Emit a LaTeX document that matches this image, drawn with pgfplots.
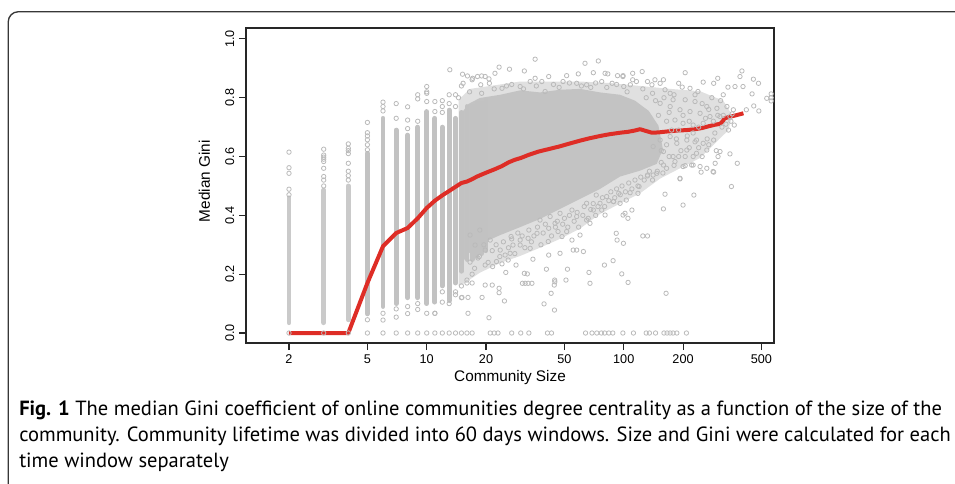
\documentclass[border=0pt]{standalone}
\usepackage{fontspec}
\setmainfont{Liberation Sans}
\newfontfamily\capfont{PT Sans}
\usepackage{pgfplots}
\pgfplotsset{compat=1.18}
\definecolor{ring}{RGB}{186,186,186}
\definecolor{core}{RGB}{195,195,195}
\definecolor{fringe}{RGB}{224,224,224}
\definecolor{colfill}{RGB}{194,194,194}
\definecolor{colfilllight}{RGB}{202,202,202}
\definecolor{medred}{RGB}{222,45,38}
\definecolor{framegray}{RGB}{55,55,55}

\pgfplotsset{
  pts/.style={only marks, mark=o, mark size=1.65pt, ring, mark options={line width=0.6pt}},
  col/.style={colfill, line width=3.6pt, line cap=round},
  collight/.style={colfilllight, line width=3.6pt, line cap=round},
}

\begin{document}
\begin{tikzpicture}
\useasboundingbox (0,0) rectangle (716.25pt,-362.25pt);
% panel frame
\draw[framegray, line width=1pt, rounded corners=7.5pt] (6.2pt,-380pt) -- (6.2pt,-8.8pt) -- (730pt,-8.8pt);

\begin{axis}[
  at={(184.5pt,-257.25pt)}, anchor=south west,
  scale only axis, width=396pt, height=236.25pt,
  xmode=log, xmin=1.21, xmax=579, ymin=-0.034, ymax=1.037,
  axis line style={black!85, line width=0.8pt},
  tick align=outside, major tick length=5.25pt,
  tick style={black!85, line width=0.8pt},
  xtick pos=bottom, ytick pos=left,
  xtick={2,5,10,20,50,100,200,500},
  xticklabels={2,5,10,20,50,100,200,500},
  minor xtick={},
  ytick={0,0.2,0.4,0.6,0.8,1},
  yticklabels={0.0,0.2,0.4,0.6,0.8,1.0},
  /pgf/number format/assume math mode=true,
  ticklabel style={font=\fontsize{9.5}{11}\selectfont},
  yticklabel style={rotate=90, anchor=south},
  xlabel={Community Size}, ylabel={Median Gini},
  label style={font=\fontsize{11.5}{13}\selectfont},
  xlabel style={at={(axis description cs:0.5,-0.111)}, anchor=center},
  ylabel style={at={(axis description cs:-0.079,0.514)}, anchor=center},
]

% semi-dense outer band of the point cloud
\addplot[fill=fringe, draw=none] coordinates {
(14.5,0.793)(16.6,0.830)(21.0,0.840)(29.8,0.855)(42.3,0.855)(60.0,0.855)(85.2,0.850)
(121,0.840)(172,0.830)(244,0.822)(320,0.790)(355,0.741)(340,0.690)(291,0.645)(244,0.595)
(193,0.56)(153,0.525)(121,0.475)(95.8,0.44)(75.8,0.405)(60,0.355)(47.5,0.32)
(37.6,0.29)(29.8,0.262)(23.6,0.238)(18.6,0.205)(15.6,0.17)(14.5,0.16)} -- cycle;

% saturated core of the point cloud
\addplot[fill=core, draw=none] coordinates {
(14.6,0.70)(15.2,0.752)(16.3,0.779)(18.6,0.799)(23.6,0.810)(29.8,0.825)(37.6,0.818)
(47.5,0.827)(60.0,0.830)(75.8,0.818)(95.8,0.81)(114,0.79)(134,0.755)(150,0.705)
(158,0.625)(147,0.575)(121,0.552)(95.8,0.532)(75.8,0.49)(60,0.456)(47.5,0.422)
(37.6,0.388)(29.8,0.36)(23.6,0.333)(18.6,0.302)(16.3,0.27)(15.2,0.24)(14.6,0.22)} -- cycle;

% stacked points of the small community sizes
\addplot[collight] coordinates {(2,0.035)(2,0.46)};
\addplot[collight] coordinates {(3,0.035)(3,0.486)};
\addplot[collight] coordinates {(4,0.045)(4,0.50)};
\addplot[col] coordinates {(5,0.065)(5,0.611)};
\addplot[col] coordinates {(6,0.09)(6,0.73)};
\addplot[col] coordinates {(7,0.10)(7,0.69)};
\addplot[col] coordinates {(8,0.12)(8,0.673)};
\addplot[col] coordinates {(9,0.12)(9,0.70)};
\addplot[col] coordinates {(10,0.10)(10,0.753)};
\addplot[col] coordinates {(11,0.105)(11,0.73)};
\addplot[col] coordinates {(12,0.16)(12,0.70)};
\addplot[col] coordinates {(13,0.11)(13,0.758)};
\addplot[col] coordinates {(14,0.17)(14,0.73)};
\addplot[col] coordinates {(15,0.21)(15,0.75)};
\addplot[col] coordinates {(16,0.25)(16,0.77)};
\addplot[col] coordinates {(17,0.25)(17,0.77)};
\addplot[col] coordinates {(18,0.26)(18,0.78)};
\addplot[col] coordinates {(19,0.27)(19,0.78)};
\addplot[col] coordinates {(20,0.28)(20,0.79)};

% isolated points of the columns
\addplot[pts] coordinates {
(2,0.615)(2,0.562)(2,0.543)(2,0.489)(2,0.47)
(3,0.625)(3,0.605)(3,0.598)(3,0.591)(3,0.583)(3,0.56)(3,0.532)(3,0.52)(3,0.50)
(4,0.643)(4,0.628)(4,0.62)(4,0.61)(4,0.577)(4,0.55)(4,0.535)(4,0.52)
(5,0.716)(5,0.681)(5,0.67)(5,0.657)(5,0.64)(5,0.623)(5,0.045)
(6,0.785)(6,0.77)(6,0.755)(6,0.067)(6,0.044)
(7,0.78)(7,0.73)(7,0.082)(7,0.054)
(8,0.769)(8,0.724)(8,0.695)(8,0.09)(8,0.066)
(9,0.81)(9,0.796)(9,0.72)(9,0.10)(9,0.08)
(10,0.838)(10,0.82)(10,0.815)(10,0.787)(10,0.067)
(11,0.787)(11,0.753)(11,0.067)
(12,0.79)(12,0.77)(12,0.75)(12,0.14)(12,0.105)
(13,0.81)(13,0.78)(13,0.10)
(14,0.81)(14,0.77)(14,0.14)(14,0.13)
(15,0.84)(15,0.16)(15,0.12)
(16,0.18)(16,0.17)
(17,0.20)(17,0.17)
};

% communities with a zero coefficient
\addplot[pts] coordinates {
(2,0)(3,0)(4,0)(5,0)(6,0)(7,0)(8,0)(9,0)(10,0)(11,0)(12,0)(13,0)(14,0)(15,0)(16,0)(17,0)
(21,0)(22,0)(23,0)(27,0)(30,0)(33,0)(41,0)(43,0)(64,0)(69,0)(73,0)(77,0)(80,0)(84,0)
(88,0)(99,0)(112,0)(130,0)(135,0)(145,0)(160,0)(166,0)(172,0)(178,0)(186,0)(208,0)
};

% upper edge of the cloud
\addplot[pts] coordinates {
(13.1,0.895)(15.2,0.880)(16.1,0.874)(17.1,0.866)(18.1,0.872)(19.0,0.874)(19.8,0.872)
(20.7,0.864)(22.2,0.883)(23.3,0.904)(26.3,0.897)(31.3,0.891)(35.5,0.931)(41.6,0.872)
(51.3,0.875)(58.8,0.881)(63.6,0.917)(70.1,0.885)(74.3,0.925)(80.4,0.883)(83.0,0.881)
(93.0,0.875)(99.2,0.875)(111,0.883)
(15.3,0.849)(17.0,0.861)(18.8,0.844)(20.8,0.849)(24.1,0.832)(25.4,0.840)(29.8,0.838)
(33.5,0.855)(35.5,0.866)(38.4,0.855)(39.9,0.821)(49.2,0.855)(57.7,0.849)(64.8,0.844)
(77.3,0.855)(87.3,0.849)(100,0.838)(108,0.844)(116,0.855)
(14.5,0.80)(16.5,0.82)(19,0.815)(22,0.83)(27,0.845)(31,0.83)(36,0.84)(44,0.845)
(47,0.835)(53,0.85)(61,0.84)(68,0.835)(72,0.85)(82,0.835)(92,0.845)(104,0.82)
(125,0.83)(140,0.815)
};

% large communities
\addplot[pts] coordinates {
(124,0.889)(205,0.885)(398,0.891)(389,0.872)(455,0.863)(483,0.849)(338,0.836)(367,0.838)
(403,0.838)(448,0.813)(532,0.798)(560,0.813)(560,0.800)(560,0.789)(485,0.755)(457,0.772)
(419,0.759)(364,0.707)(286,0.849)(300,0.866)(253,0.853)(238,0.821)(217,0.832)(198,0.836)
(190,0.849)(172,0.815)(159,0.861)(162,0.827)(144,0.861)(153,0.849)(132,0.855)(139,0.844)
(111,0.861)(99,0.872)
(178,0.793)(205,0.793)(230,0.787)(264,0.770)(297,0.764)(334,0.770)(308,0.736)(274,0.736)
(244,0.747)(217,0.753)(193,0.759)(172,0.770)(153,0.781)(253,0.713)(225,0.707)(200,0.713)
(182,0.724)(346,0.736)(360,0.759)(234,0.656)(209,0.656)(186,0.645)(253,0.645)(286,0.656)
(172,0.668)(153,0.656)(141,0.634)(159,0.617)(209,0.622)(234,0.611)(264,0.622)(178,0.600)
(377,0.577)(346,0.609)(308,0.617)(291,0.577)(284,0.549)(244,0.566)(221,0.571)(200,0.566)
(182,0.583)(159,0.571)(141,0.537)(158,0.544)(193,0.526)(132,0.537)
(125,0.330)(132,0.330)(164,0.135)(162,0.472)(159,0.422)(193,0.524)(200,0.435)(227,0.469)
(247,0.547)(264,0.560)(286,0.547)(301,0.600)(352,0.498)(225,0.571)(205,0.569)(147,0.543)
(132,0.534)(119.6,0.498)(107.7,0.477)(94.3,0.475)(88.7,0.447)(101.5,0.407)(99.6,0.305)
(320,0.74)(330,0.71)(340,0.69)(350,0.72)(355,0.745)(270,0.76)(250,0.78)(230,0.81)
(280,0.8)(310,0.79)(320,0.81)(180,0.81)(160,0.8)(145,0.79)(130,0.8)(150,0.74)
(165,0.72)(175,0.69)(170,0.75)(190,0.69)(200,0.74)(215,0.72)(225,0.68)(240,0.70)
(260,0.73)(285,0.72)(300,0.74)(210,0.67)(185,0.66)(165,0.64)(155,0.62)(195,0.62)
(230,0.65)(265,0.66)(290,0.68)(315,0.70)(295,0.62)(270,0.64)(250,0.6)(240,0.63)
(225,0.6)(215,0.63)(205,0.6)(190,0.6)(180,0.57)(170,0.6)(165,0.56)(155,0.58)
};

% lower edge of the cloud
\addplot[pts] coordinates {
(11.0,0.067)(16.2,0.067)(20.7,0.052)(15.1,0.121)(16.2,0.121)(19.1,0.121)(24.8,0.109)
(23.3,0.152)(23.3,0.137)(19.8,0.163)(21.5,0.163)(39.4,0.099)(44.5,0.078)(42.8,0.135)
(44.4,0.163)(44.7,0.174)(40.5,0.217)(34.6,0.251)(31.3,0.203)(32.4,0.201)(30.6,0.169)
(31.6,0.169)(32.7,0.169)(34.2,0.169)(25.2,0.206)(24.1,0.235)(28.4,0.231)(55.4,0.282)
(47.5,0.271)(41.4,0.311)(41.6,0.265)(51.8,0.217)(50.9,0.180)(66.6,0.206)(67.4,0.169)
(79.8,0.231)(88.3,0.246)(97.7,0.201)(105.2,0.172)(92.5,0.316)(91.6,0.339)(44.6,0.180)
(60,0.333)(54.6,0.316)(64.8,0.384)(67.4,0.373)(51.3,0.345)(46.4,0.345)(48.6,0.328)
(41.6,0.356)(44.8,0.373)(36.3,0.339)(32.7,0.322)(33.5,0.288)(29.8,0.316)(29.8,0.299)
(26.8,0.328)(27.4,0.299)(26.5,0.271)(23.6,0.282)(25.0,0.265)(25.9,0.248)(22.6,0.243)
(21.6,0.226)(62.4,0.277)(57.7,0.282)(70.1,0.418)(77.3,0.418)(80.4,0.401)(88.7,0.447)
(95.8,0.441)(103,0.452)(110,0.418)(99.2,0.401)(105,0.390)(118,0.475)(64.8,0.441)
(75.8,0.441)(81.9,0.464)(72.5,0.469)(54.6,0.418)(57.7,0.396)(47.5,0.407)(42.3,0.396)
(37.6,0.384)
(16.6,0.333)(17.6,0.299)(18.6,0.350)(19.8,0.282)(21.0,0.316)(18.2,0.255)(16.6,0.241)(19.8,0.231)
(17.5,0.22)(18.5,0.26)(19.5,0.30)(20.5,0.24)(21.5,0.28)(22.5,0.30)(23.5,0.26)(24.5,0.31)
(26,0.29)(27,0.32)(28,0.27)(29,0.34)(30.5,0.33)(31.5,0.29)(33,0.35)(34,0.31)(35,0.33)
(36.5,0.36)(38,0.30)(39,0.34)(40,0.37)(43,0.33)(45,0.36)(46,0.38)(49,0.37)(50,0.39)
(52,0.36)(53,0.40)(56,0.38)(58,0.41)(59,0.36)(62,0.40)(63,0.43)(66,0.39)(68,0.42)
(70,0.44)(72,0.40)(74,0.43)(78,0.46)(80,0.43)(84,0.45)(86,0.48)(90,0.46)(92,0.49)
(96,0.47)(98,0.50)(102,0.48)(106,0.51)(110,0.49)(114,0.52)(118,0.50)(122,0.53)
(127,0.52)(135,0.55)(140,0.52)(148,0.55)
};

% median Gini by community size
\addplot[medred, line width=3pt, line join=round] coordinates {
(2,0)(3,0)(4,0)(5,0.17)(6,0.295)(7,0.34)(8,0.357)(9,0.39)(10,0.425)(11,0.45)(12,0.468)
(13,0.483)(14,0.497)(15,0.51)(16,0.515)(17,0.523)(18,0.532)(20,0.545)(22,0.556)(24,0.567)
(26,0.58)(28,0.589)(30,0.595)(33,0.606)(37,0.617)(42,0.626)(47,0.634)(53,0.644)(60,0.654)
(67,0.662)(76,0.67)(85,0.676)(96,0.681)(105,0.684)(113,0.688)(121,0.693)(128,0.688)
(139,0.681)(150,0.682)(165,0.685)(185,0.688)(209,0.690)(230,0.693)(250,0.697)(270,0.703)
(290,0.708)(308,0.711)(318,0.72)(325,0.73)(345,0.735)(370,0.740)(405,0.747)
};
\end{axis}

\node[anchor=base west, inner sep=0pt] at (14.25pt,-311.6pt)
  {\capfont\fontsize{15.4}{18}\selectfont\textbf{Fig. 1} The median Gini coefficient of online communities degree centrality as a function of the size of the};
\node[anchor=base west, inner sep=0pt] at (14.25pt,-331.1pt)
  {\capfont\fontsize{15.4}{18}\selectfont community. Community lifetime was divided into 60 days windows. Size and Gini were calculated for each};
\node[anchor=base west, inner sep=0pt] at (14.25pt,-350.6pt)
  {\capfont\fontsize{15.4}{18}\selectfont time window separately};
\end{tikzpicture}
\end{document}
